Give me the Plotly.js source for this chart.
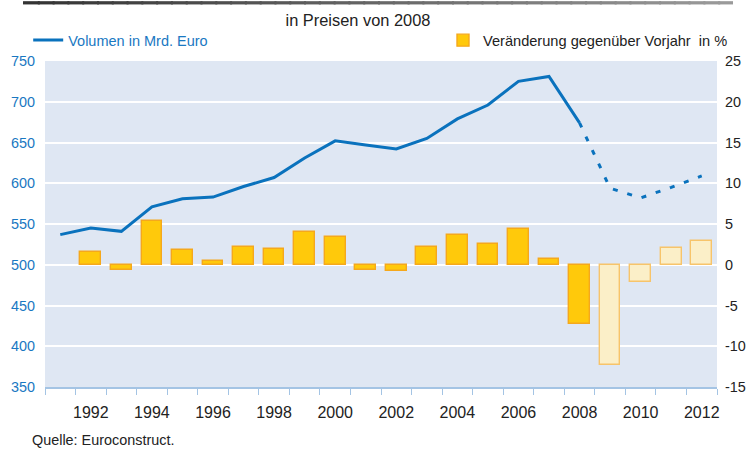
<!DOCTYPE html>
<html>
<head>
<meta charset="utf-8">
<script src="https://cdn.plot.ly/plotly-3.0.1.min.js"></script>
<style>html,body{margin:0;padding:0;background:#fff;}#chart{width:748px;height:450px;}</style>
</head>
<body>
<div id="chart"></div>
<script>
// Data
const years = [1991,1992,1993,1994,1995,1996,1997,1998,1999,2000,2001,2002,2003,2004,2005,2006,2007,2008,2009,2010,2011,2012];
const volume = [537,545,541,571,581,583,596,607,631,652,647,642,655,679,696,725,731,674,594,582,595,609];
const barYears = [1992,1993,1994,1995,1996,1997,1998,1999,2000,2001,2002,2003,2004,2005,2006,2007,2008,2009,2010,2011,2012];
const changes = [1.6,-0.7,5.4,1.8,0.5,2.2,1.9,4.0,3.4,-0.7,-0.8,2.2,3.6,2.5,4.4,0.7,-7.3,-12.3,-2.1,2.1,2.9];
const lastActualYear = 2008;
const xTickLabels = ['1992','1994','1996','1998','2000','2002','2004','2006','2008','2010','2012'];
const y2TickVals = [-15,-10,-5,0,5,10,15,20,25];
const y2TickText = ['-15','-10','-5','0','5','10','15','20','25'];
const titleText = 'in Preisen von 2008';
const lineName = 'Volumen in Mrd. Euro';
const barName = 'Ver\u00e4nderung gegen\u00fcber Vorjahr  in %';
const sourceText = 'Quelle: Euroconstruct.';

const FONT = 'Liberation Sans, Arial, sans-serif';
const BLUE = '#0a72bd';

const iSplit = years.indexOf(lastActualYear);
const solidX = years.slice(0, iSplit + 1), solidY = volume.slice(0, iSplit + 1);
const dashX = years.slice(iSplit), dashY = volume.slice(iSplit);

const barFill = barYears.map(y => y > lastActualYear ? '#fbefc8' : '#ffc90b');
const barLine = barYears.map(y => y > lastActualYear ? '#f7c46a' : '#f5a81c');

const traces = [
  {
    type: 'bar', x: barYears, y: changes, yaxis: 'y2', name: barName, legend: 'legend2',
    width: 0.68,
    marker: {color: barFill, line: {color: barLine, width: 1.4}},
    hoverinfo: 'x+y'
  },
  {
    type: 'scatter', mode: 'lines', x: solidX, y: solidY, name: lineName, legend: 'legend',
    line: {color: BLUE, width: 3}
  },
  {
    type: 'scatter', mode: 'lines', x: dashX, y: dashY, name: lineName, showlegend: false,
    line: {color: BLUE, width: 3, dash: '5px,10px'}
  }
];

// top decorative rule (dark to grey), drawn as a stepped gradient with overlapping pieces
const shapes = [];
const nSeg = 48, sx0 = -0.0327, sx1 = 1.0238;
const segW = (sx1 - sx0) / nSeg;
for (let i = 0; i < nSeg; i++) {
  const t = i / (nSeg - 1);
  const c = Math.round(0x33 + t * (0x9a - 0x33));
  shapes.push({
    type: 'rect', xref: 'paper', yref: 'paper', layer: 'above',
    x0: sx0 + segW * i, x1: Math.min(sx1, sx0 + segW * (i + 1) + 0.003), y0: 1.1735, y1: 1.1835,
    fillcolor: `rgb(${c},${c},${c})`, line: {width: 0}
  });
}

const layout = {
  width: 748, height: 450,
  margin: {l: 45, r: 31, t: 61, b: 63},
  paper_bgcolor: '#ffffff',
  plot_bgcolor: '#dfe7f3',
  font: {family: FONT, size: 14, color: '#222'},
  title: {text: titleText, font: {family: FONT, size: 16.4, color: '#222'},
          xref: 'container', x: 0.4786, xanchor: 'center', yref: 'container', y: 0.955, yanchor: 'middle'},
  bargap: 0,
  xaxis: {
    range: [1990.5, 2012.5], tickmode: 'array', tickvals: xTickLabels.map(Number), ticktext: xTickLabels,
    ticks: '', showgrid: false, zeroline: false,
    showline: true, linecolor: '#a4c4e4', linewidth: 1.5,
    tickfont: {family: FONT, size: 16, color: '#222'},
    ticklabelstandoff: 10,
    minor: {tick0: 1990.5, dtick: 1, ticks: 'outside', ticklen: 6, tickcolor: '#a4c4e4', tickwidth: 1, showgrid: false}
  },
  yaxis: {
    range: [350, 750], dtick: 50, tick0: 350, showgrid: true, gridcolor: '#ffffff', gridwidth: 2,
    zeroline: false, ticks: '', showline: false,
    tickfont: {family: FONT, size: 14.4, color: '#1a78c2'}, ticklabelstandoff: 9
  },
  yaxis2: {
    range: [-15, 25], tickmode: 'array', tickvals: y2TickVals, ticktext: y2TickText,
    overlaying: 'y', side: 'right',
    showgrid: false, zeroline: false, ticks: '', showline: false,
    tickfont: {family: FONT, size: 14.4, color: '#222'}, ticklabelstandoff: 7
  },
  showlegend: true,
  legend: {x: -0.025, xanchor: 'left', y: 1.064, yanchor: 'middle', bgcolor: 'rgba(0,0,0,0)',
           font: {family: FONT, size: 14.5, color: '#1a78c2'}, itemwidth: 30},
  legend2: {x: (443 - 45) / 672, xanchor: 'left', y: 1.064, yanchor: 'middle', bgcolor: 'rgba(0,0,0,0)',
            font: {family: FONT, size: 14.6, color: '#222'}, itemwidth: 30},
  shapes: shapes,
  annotations: [
    {text: sourceText, xref: 'paper', yref: 'paper', x: -0.0223, xanchor: 'left', y: -0.162, yanchor: 'middle',
     showarrow: false, font: {family: FONT, size: 14.4, color: '#222'}}
  ]
};

Plotly.newPlot('chart', traces, layout, {displayModeBar: false, responsive: false});
</script>
</body>
</html>
